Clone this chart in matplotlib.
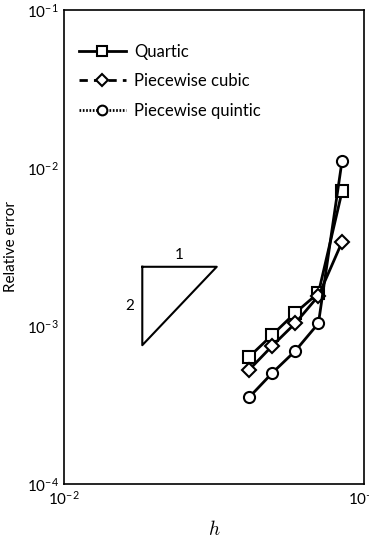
import numpy as np
import matplotlib.pyplot as plt
from matplotlib.lines import Line2D

plt.rcParams['font.family'] = ['Lato', 'DejaVu Sans']
plt.rcParams['mathtext.fontset'] = 'custom'
plt.rcParams['mathtext.rm'] = 'Lato'
plt.rcParams['mathtext.default'] = 'regular'

# mesh size and errors for each basis
h = np.array([0.0415, 0.0495, 0.059, 0.0705, 0.0845])
quartic = np.array([6.4e-4, 8.8e-4, 1.21e-3, 1.62e-3, 7.1e-3])
cubic = np.array([5.3e-4, 7.5e-4, 1.04e-3, 1.55e-3, 3.4e-3])
quintic = np.array([3.55e-4, 5.05e-4, 6.95e-4, 1.04e-3, 1.11e-2])

# slope triangle corners
tri_x = [0.01824, 0.0323]
tri_top = 2.37e-3

fig = plt.figure(figsize=(3.69, 5.38), dpi=100)
ax = fig.add_axes([0.1734, 0.1004, 0.8130, 0.8810])

style = dict(color='black', lw=2.0, markerfacecolor='white',
             markeredgecolor='black', markeredgewidth=1.5)
ax.plot(h, quartic, marker='s', ms=8, **style)
ax.plot(h, cubic, marker='D', ms=7, **style)
ax.plot(h, quintic, marker='o', ms=8, **style)

# slope 2 triangle
tri_bot = tri_top * (tri_x[0] / tri_x[1]) ** 2
ax.plot([tri_x[0], tri_x[1], tri_x[0], tri_x[0]],
        [tri_top, tri_top, tri_bot, tri_top], color='black', lw=1.5)
ax.text(np.sqrt(tri_x[0] * tri_x[1]), tri_top * 1.08, '1', ha='center',
        va='bottom', fontsize=11)
ax.text(tri_x[0] * 0.94, np.sqrt(tri_top * tri_bot), '2', ha='right',
        va='center', fontsize=11)

ax.set_xscale('log')
ax.set_yscale('log')
ax.set_xlim(1e-2, 1e-1)
ax.set_ylim(1e-4, 1e-1)
ax.set_xticks([1e-2, 1e-1])
ax.set_xticklabels(['$10^{-2}$', '$10^{-1}$'])
ax.set_yticks([1e-4, 1e-3, 1e-2, 1e-1])
ax.set_yticklabels(['$10^{-4}$', '$10^{-3}$', '$10^{-2}$', '$10^{-1}$'])
ax.minorticks_off()
ax.tick_params(length=0, labelsize=11, pad=4)
for s in ax.spines.values():
    s.set_linewidth(1.2)

ax.set_ylabel('Relative error', fontsize=11, labelpad=6)
ax.set_xlabel(r'$\mathit{h}$', fontsize=14, math_fontfamily='cm', labelpad=8)

handles = [
    Line2D([], [], ls='-', marker='s', ms=7, **style),
    Line2D([], [], ls=(0, (3, 2.2)), marker='D', ms=6, **style),
    Line2D([], [], ls=(0, (0.6, 0.6)), marker='o', ms=7, **style),
]
ax.legend(handles, ['Quartic', 'Piecewise cubic', 'Piecewise quintic'],
          loc='upper left', frameon=False, fontsize=12, handlelength=2.8,
          handletextpad=0.5, labelspacing=0.8,
          bbox_to_anchor=(0.0, 0.96))

fig.savefig('out.png', dpi=100)
